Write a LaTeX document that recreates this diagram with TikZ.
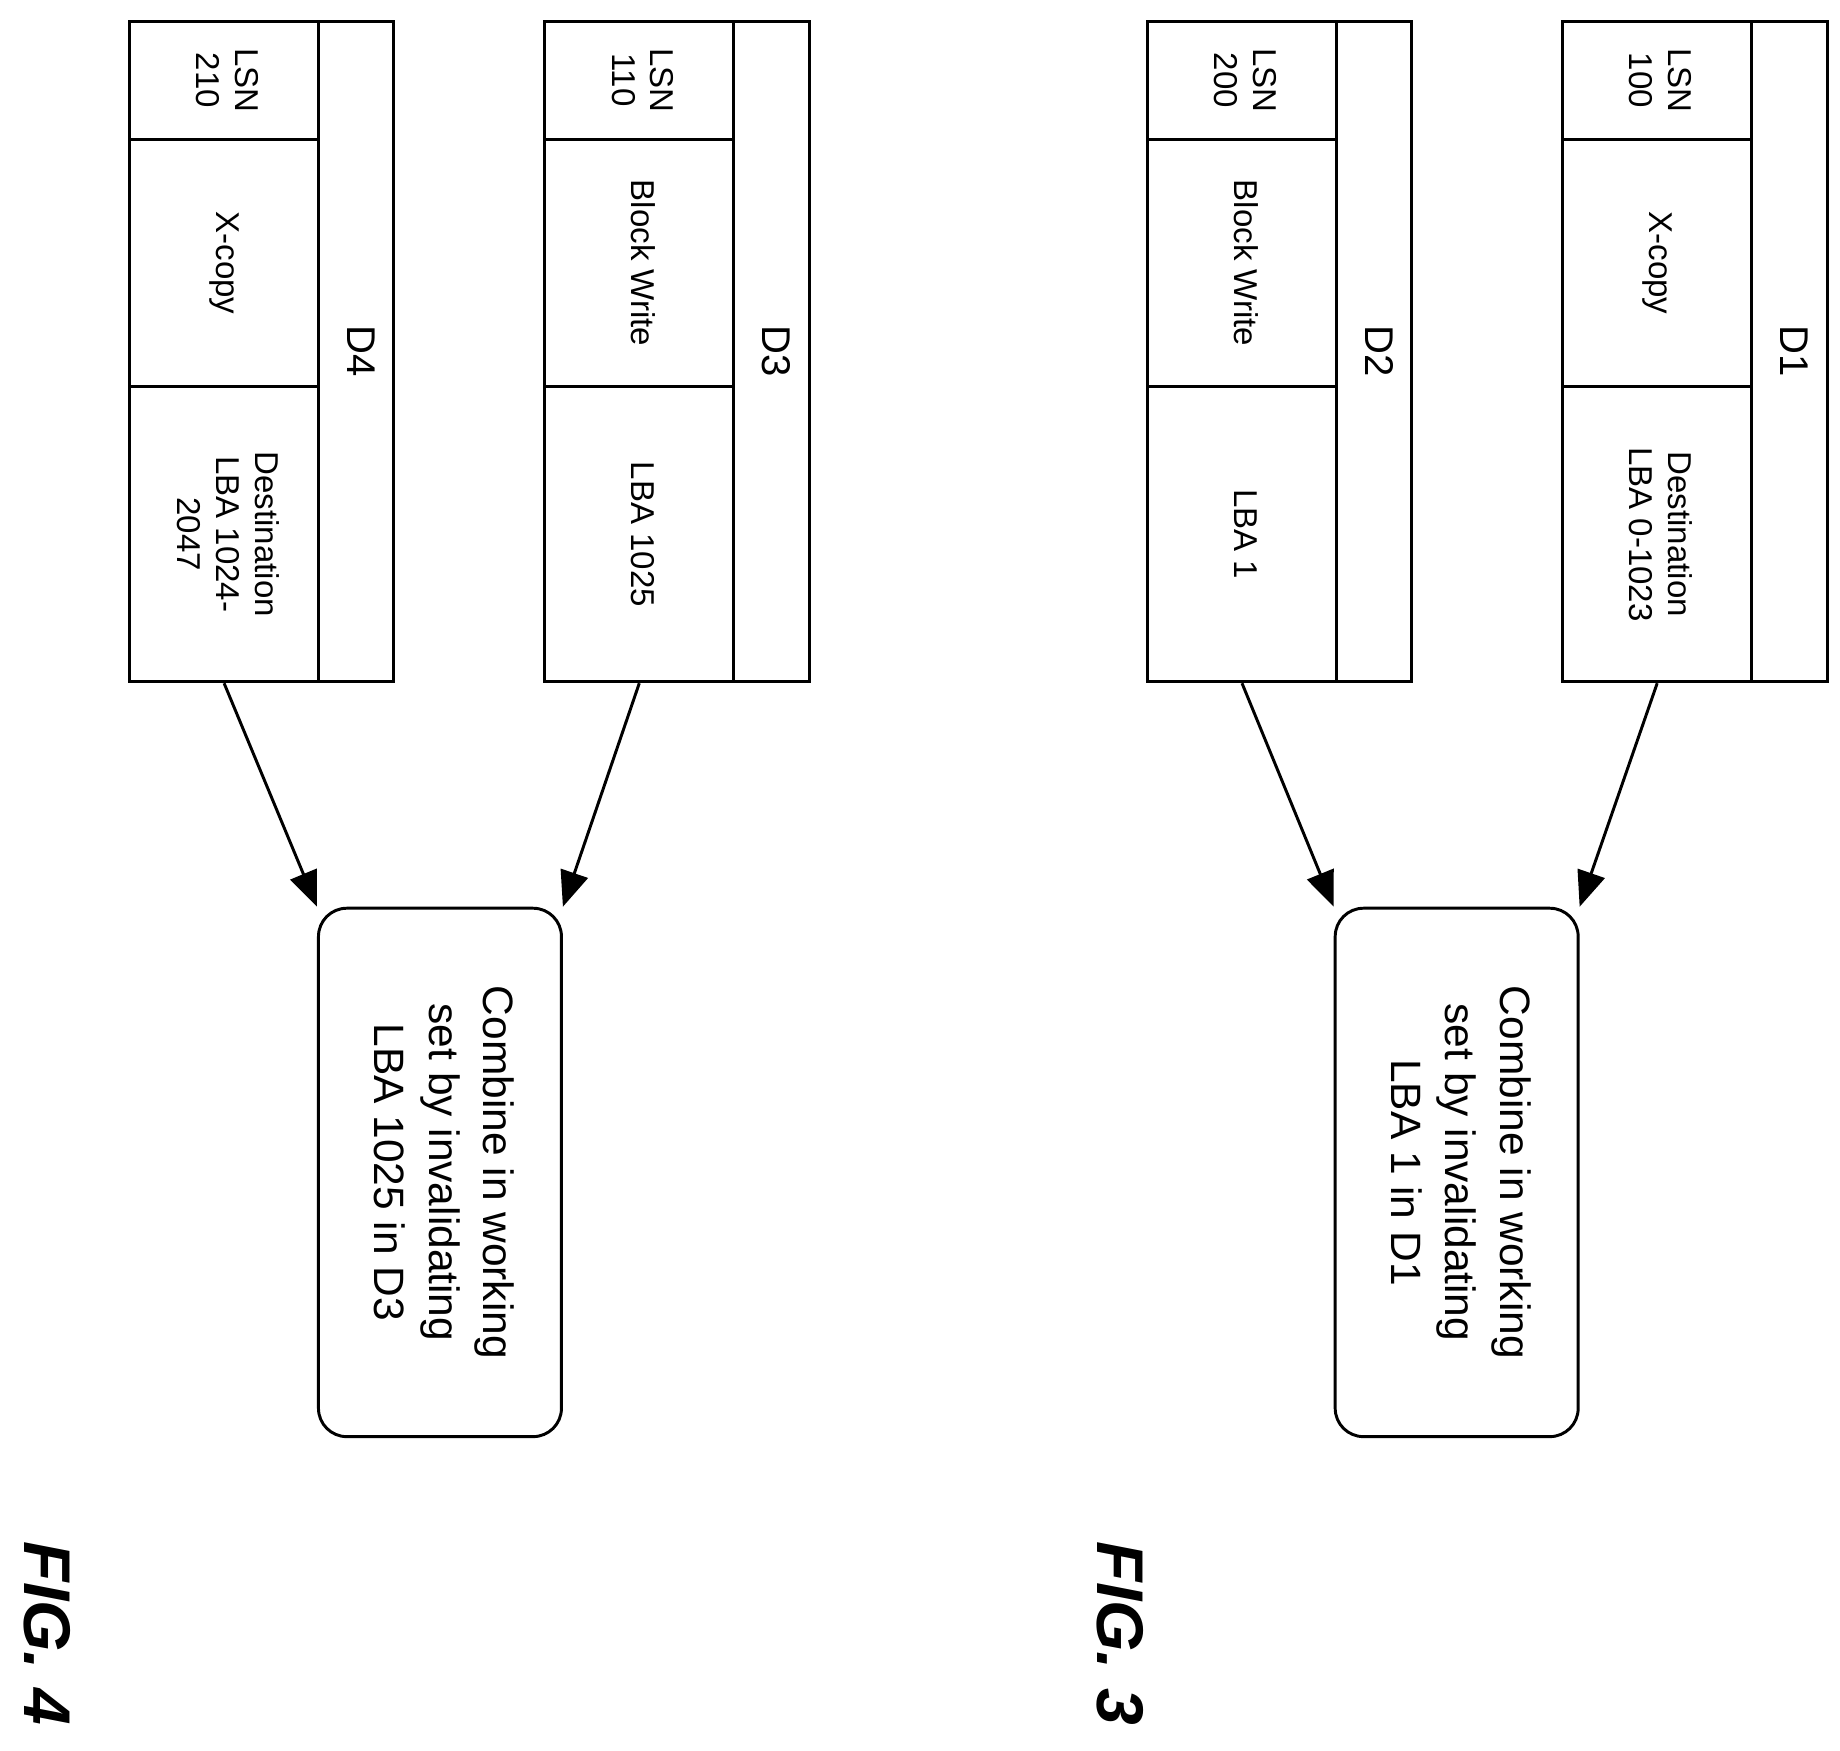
\documentclass[tikz,border=0pt]{standalone}
\usepackage{fontspec}
\setmainfont{Liberation Sans}
\usetikzlibrary{arrows.meta}
\tikzset{cell/.style={draw, line width=2.5pt, inner sep=0pt, font=\fontsize{28}{33}\selectfont}}
\tikzset{headcell/.style={cell, font=\fontsize{34}{38}\selectfont}}
\tikzset{stepbox/.style={draw, line width=2.5pt, rounded corners=24pt, inner sep=0pt, minimum width=206pt, minimum height=448pt, font=\fontsize{36}{46}\selectfont}}
\tikzset{flow/.style={line width=2.5pt, -{Triangle[length=30pt,width=24pt]}}}
\newcommand{\rot}[1]{\rotatebox{-90}{\begin{tabular}{@{}c@{}}#1\end{tabular}}}
% one log record: name, left edge, header, lsn, operation, range
\newcommand{\record}[6]{%
\node[headcell, minimum width=64pt, minimum height=560pt] (#1h) at (#2+192, 298) {\rot{#3}};
\node[cell, minimum width=160pt, minimum height=100pt] (#1lsn) at (#2+80, 68) {\rot{#4}};
\node[cell, minimum width=160pt, minimum height=210pt] (#1op) at (#2+80, 223) {\rot{#5}};
\node[cell, minimum width=160pt, minimum height=250pt] (#1lba) at (#2+80, 453) {\rot{#6}};
}
\begin{document}
\begin{tikzpicture}[x=1pt, y=-1pt]
\useasboundingbox (0,0) rectangle (1560,1484);

\record{d1}{1325}{D1}{LSN\\100}{X-copy}{Destination\\LBA 0-1023}
\record{d2}{973}{D2}{LSN\\200}{Block Write}{LBA 1}
\record{d3}{462}{D3}{LSN\\110}{Block Write}{LBA 1025}
\record{d4}{110}{D4}{LSN\\210}{X-copy}{Destination\\LBA 1024-\\2047}

\node[stepbox] (comb3) at (1235, 994) {\rot{Combine in working\\set by invalidating\\LBA 1 in D1}};
\node[stepbox] (comb4) at (373, 994) {\rot{Combine in working\\set by invalidating\\LBA 1025 in D3}};

\draw[flow] (d1lba.south) -- (comb3.north east);
\draw[flow] (d2lba.south) -- (comb3.north west);
\draw[flow] (d3lba.south) -- (comb4.north east);
\draw[flow] (d4lba.south) -- (comb4.north west);

\node[font=\fontsize{56}{60}\selectfont\bfseries\itshape] (fig3) at (950, 1385) {\rotatebox{-90}{FIG. 3}};
\node[font=\fontsize{56}{60}\selectfont\bfseries\itshape] (fig4) at (40, 1385) {\rotatebox{-90}{FIG. 4}};
\end{tikzpicture}
\end{document}
